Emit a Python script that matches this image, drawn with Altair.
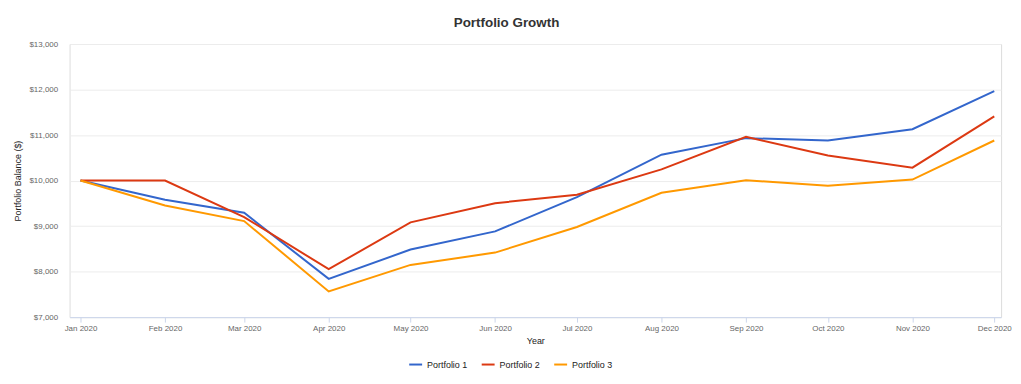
import altair as alt
import pandas as pd

months = ["2020-01-01", "2020-02-01", "2020-03-01", "2020-04-01", "2020-05-01", "2020-06-01",
          "2020-07-01", "2020-08-01", "2020-09-01", "2020-10-01", "2020-11-01", "2020-12-01"]
series_names = ["Portfolio 1", "Portfolio 2", "Portfolio 3"]
p1 = [10000, 9578, 9293, 7840, 8484, 8884, 9635, 10568, 10932, 10880, 11128, 11965]
p2 = [10000, 10000, 9197, 8053, 9081, 9503, 9687, 10247, 10961, 10553, 10284, 11411]
p3 = [10000, 9453, 9110, 7565, 8147, 8418, 8979, 9731, 10007, 9884, 10022, 10880]
colors = ["#3366cc", "#dc3912", "#ff9900"]
y_ticks = [7000, 8000, 9000, 10000, 11000, 12000, 13000]

rows = []
for name, vals in zip(series_names, [p1, p2, p3]):
    for m, v in zip(months, vals):
        rows.append({"date": m, "value": v, "series": name})
df = pd.DataFrame(rows)

FONT = "Liberation Sans"

chart = alt.Chart(df).mark_line(strokeWidth=2).encode(
    x=alt.X(
        "date:T",
        title="Year",
        scale=alt.Scale(
            type="utc",
            domain=[alt.DateTime(year=2019, month=12, date=28, utc=True),
                    alt.DateTime(year=2020, month=12, date=3, hours=12, utc=True)],
        ),
        axis=alt.Axis(
            values=[alt.DateTime(year=2020, month=m, date=1, utc=True) for m in range(1, 13)],
            format="%b %Y",
            grid=False,
            domainColor="#ccd6eb",
            tickColor="#ccd6eb",
            tickSize=5,
            labelPadding=2,
            labelColor="#666666",
            labelFontSize=8,
            labelFont=FONT,
            labelOverlap=False,
            labelFlush=False,
            titleFont=FONT,
            titleFontSize=9,
            titleFontWeight="normal",
            titleColor="#222222",
            titlePadding=5,
        ),
    ),
    y=alt.Y(
        "value:Q",
        title="Portfolio Balance ($)",
        scale=alt.Scale(domain=[7000, 13000], nice=False, zero=False),
        axis=alt.Axis(
            values=y_ticks,
            format="$,.0f",
            domain=False,
            ticks=False,
            gridColor="#ececec",
            labelPadding=12,
            labelColor="#666666",
            labelFontSize=8,
            labelFont=FONT,
            titleFont=FONT,
            titleFontSize=9,
            titleFontWeight="normal",
            titleColor="#222222",
            titlePadding=6,
        ),
    ),
    color=alt.Color(
        "series:N",
        scale=alt.Scale(domain=series_names, range=colors),
        legend=alt.Legend(
            title=None,
            orient="none",
            direction="horizontal",
            legendX=341,
            legendY=315,
            symbolType="stroke",
            symbolSize=169,
            symbolStrokeWidth=2,
            labelFont=FONT,
            labelFontSize=9,
            labelColor="#222222",
            labelOffset=4,
            columnPadding=10,
        ),
    ),
).properties(
    width=938,
    height=275,
    autosize=alt.AutoSizeParams(type="none"),
    padding={"left": 62, "top": 35, "right": 12, "bottom": 55},
    title=alt.Title(
        "Portfolio Growth",
        font=FONT,
        fontSize=13.5,
        fontWeight="bold",
        color="#333333",
        anchor="middle",
        frame="group",
        dx=-29,
        offset=11,
    ),
).configure_view(stroke=None).configure(background="white")

chart.save("out.html", embed_options={"renderer": "svg", "actions": False})
